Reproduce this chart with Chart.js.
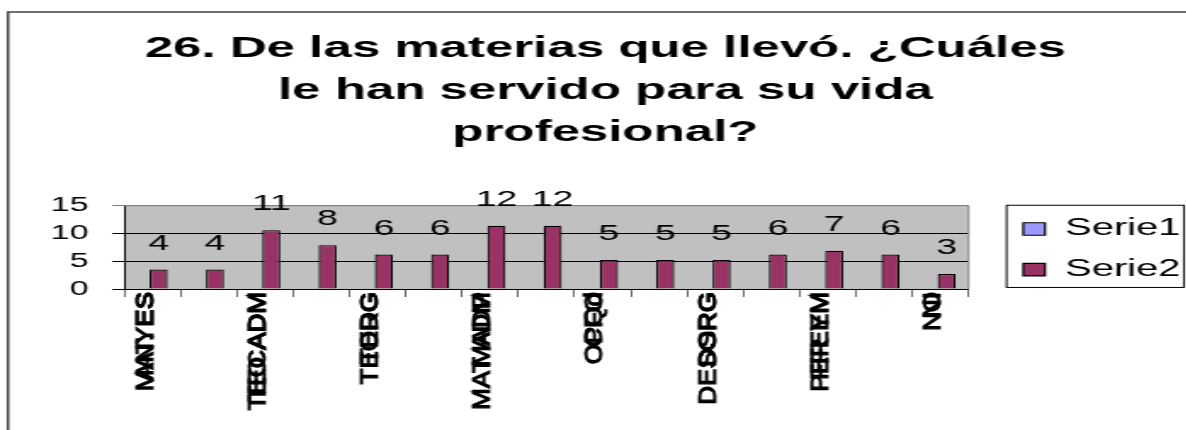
<!DOCTYPE html>
<html>
<head>
<meta charset="utf-8">
<script src="https://cdn.jsdelivr.net/npm/chart.js@4.4.1/dist/chart.umd.min.js"></script>
<style>
  html, body { margin: 0; padding: 0; background: #fff; overflow: hidden; }
  /* the original picture is stretched sideways, so the canvas is too */
  #chart { display: block; transform: scaleX(1.7); transform-origin: 0 0; }
</style>
</head>
<body>
<canvas id="chart" width="698" height="430"></canvas>
<script>
'use strict';

// ---- data ----
var titleLines = ['26. De las materias que llevó. ¿Cuáles', 'le han servido para su vida', 'profesional?'];
var categories = [
  ['MAT. ES', 'ANYES'], '', ['TEO ADM', 'TECADM'], '', ['TEORG', 'TEDG'], '',
  ['MAT ADM', 'MADP'], '', ['OPQd', 'CFO'], '', ['DESORG', 'DSRG'], '',
  ['PER EM', 'FFEYM'], '', ['NO', 'NI']
];
var serie1 = [null, null, null, null, null, null, null, null, null, null, null, null, null, null, null];
var serie2 = [3.5, 3.5, 10.6, 7.9, 6.2, 6.2, 11.4, 11.4, 5.2, 5.2, 5.2, 6.2, 6.9, 6.2, 2.7];
var valueLabels = [4, 4, 11, 8, 6, 6, 12, 12, 5, 5, 5, 6, 7, 6, 3];
var yTicks = [0, 5, 10, 15];

var STRETCH = 1.7;
var FONT = "'Liberation Sans', Arial, sans-serif";

// white page, grey plot area, outer frame, labels and legend box
var framePlugin = {
  id: 'frame',
  beforeDraw: function (chart) {
    var ctx = chart.ctx, a = chart.chartArea;
    ctx.save();
    ctx.fillStyle = '#fff';
    ctx.fillRect(0, 0, chart.width, chart.height);
    ctx.fillStyle = '#C0C0C0';
    ctx.fillRect(a.left, a.top, a.right - a.left, a.bottom - a.top);
    ctx.strokeStyle = '#404040';
    ctx.lineWidth = 1.5;
    ctx.beginPath();
    ctx.moveTo(4.7, chart.height + 5);
    ctx.lineTo(4.7, 12);
    ctx.lineTo(chart.width + 5, 12);
    ctx.stroke();
    ctx.restore();
  },
  beforeDatasetsDraw: function (chart) {
    var ctx = chart.ctx, a = chart.chartArea;
    ctx.save();
    ctx.strokeStyle = '#808080';
    ctx.lineWidth = 1;
    ctx.beginPath();
    ctx.moveTo(a.left, a.top);
    ctx.lineTo(a.right, a.top);
    ctx.lineTo(a.right, a.bottom);
    ctx.stroke();
    ctx.restore();
  },
  afterUpdate: function (chart) {
    // legend: move right a bit and centre it on the plot area
    var lg = chart.legend, a = chart.chartArea, dx = 15;
    var dy = ((a.top + a.bottom) - (lg.top + lg.bottom)) / 2 + 2;
    lg.left += dx; lg.right += dx;
    lg.top += dy; lg.bottom += dy;
    lg.legendHitBoxes.forEach(function (h) { h.left += dx; h.top += dy; });
    chart.titleBlock.left += 3.5; chart.titleBlock.right += 3.5;
  },
  afterDatasetsDraw: function (chart) {
    var ctx = chart.ctx, bars = chart.getDatasetMeta(1).data;
    ctx.save();
    ctx.fillStyle = '#000';
    ctx.font = '22px ' + FONT;
    ctx.textAlign = 'center';
    ctx.textBaseline = 'alphabetic';
    bars.forEach(function (bar, i) {
      ctx.fillText(String(valueLabels[i]), bar.x, bar.y - 20);
    });
    ctx.restore();
  },
  afterDraw: function (chart) {
    var ctx = chart.ctx, xs = chart.scales.x;
    // category labels, vertical, not stretched
    ctx.save();
    ctx.fillStyle = '#000';
    ctx.strokeStyle = '#000';
    ctx.lineWidth = 1.3;
    ctx.font = '26px ' + FONT;
    ctx.textAlign = 'right';
    ctx.textBaseline = 'alphabetic';
    categories.forEach(function (c, i) {
      if (!c) return;
      ctx.save();
      ctx.translate(xs.getPixelForValue(i), xs.top + 3);
      ctx.scale(1 / STRETCH, 1);
      ctx.rotate(-Math.PI / 2);
      c.forEach(function (line) {
        ctx.fillText(line, 0, 0);
        ctx.strokeText(line, 0, 0);
      });
      ctx.restore();
    });
    ctx.restore();

    // legend box
    var hb = chart.legend.legendHitBoxes;
    if (hb.length) {
      var first = hb[0], last = hb[hb.length - 1];
      var right = Math.max.apply(null, hb.map(function (h) { return h.left + h.width; }));
      ctx.save();
      ctx.strokeStyle = '#000';
      ctx.lineWidth = 1;
      ctx.strokeRect(first.left - 9.8, first.top - 12, right - first.left + 11.8, last.top + last.height + 18 - first.top);
      ctx.restore();
    }
  }
};

var ctx = document.getElementById('chart');
var chart = new Chart(ctx, {
  type: 'bar',
  data: {
    labels: categories,
    datasets: [
      {
        label: 'Serie1',
        data: serie1,
        backgroundColor: '#9999FF',
        borderColor: '#000',
        borderWidth: 1.2
      },
      {
        label: 'Serie2',
        data: serie2,
        backgroundColor: '#993366',
        borderColor: '#000',
        borderWidth: 1.2
      }
    ]
  },
  options: {
    responsive: false,
    animation: false,
    devicePixelRatio: 1,
    categoryPercentage: 0.45,
    barPercentage: 1.42,
    layout: {
      padding: { left: 15.8, right: 8.6, top: 0, bottom: 133 }
    },
    plugins: {
      title: {
        display: true,
        text: titleLines,
        color: '#000',
        font: { family: FONT, size: 30, weight: 'bold', lineHeight: 1.4 },
        padding: { top: 27.7, bottom: 52 }
      },
      legend: {
        position: 'right',
        labels: {
          color: '#000',
          font: { family: FONT, size: 23.5 },
          boxWidth: 12.8,
          boxHeight: 12.5,
          padding: 17.2
        }
      },
      tooltip: { enabled: false }
    },
    scales: {
      x: {
        grid: {
          display: true,
          drawOnChartArea: false,
          drawTicks: true,
          tickLength: 8,
          offset: true,
          color: '#000',
          lineWidth: 0.6
        },
        border: { color: '#000', width: 1 },
        ticks: { display: false }
      },
      y: {
        min: 0,
        max: 15,
        grid: {
          color: function (c) { return c.tick && c.tick.value === 15 ? '#808080' : '#000'; },
          lineWidth: 1,
          tickLength: 7
        },
        border: { color: '#000', width: 1 },
        ticks: {
          stepSize: 5,
          padding: 14,
          color: '#000',
          font: { family: FONT, size: 20 },
          callback: function (v) { return yTicks.indexOf(v) >= 0 ? v : ''; }
        }
      }
    }
  },
  plugins: [framePlugin]
});
</script>
</body>
</html>
